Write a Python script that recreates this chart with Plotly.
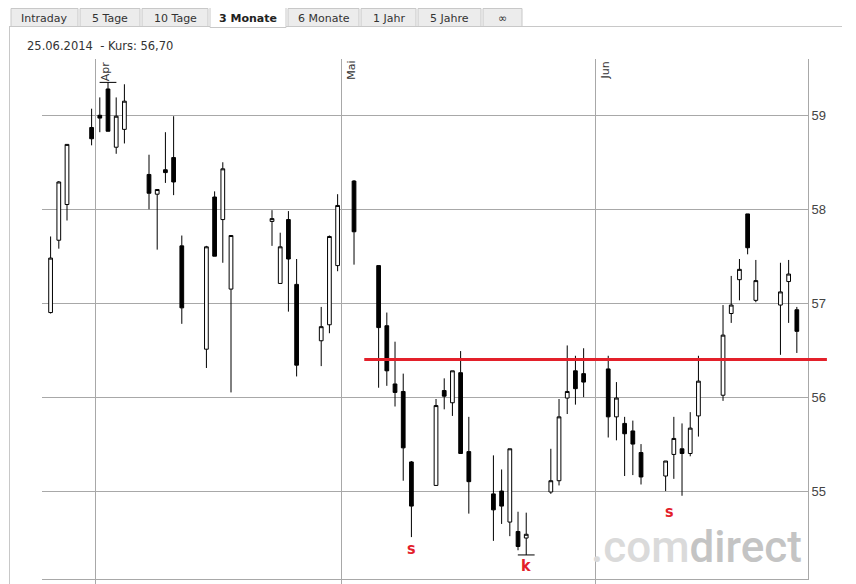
import plotly.graph_objects as go
import pandas as pd

# ---------------- data ----------------
dates = ["2014-03-26", "2014-03-27", "2014-03-28", "2014-03-31", "2014-04-01", "2014-04-02",
         "2014-04-03", "2014-04-04", "2014-04-07", "2014-04-08", "2014-04-09", "2014-04-10",
         "2014-04-11", "2014-04-14", "2014-04-15", "2014-04-16", "2014-04-17", "2014-04-22",
         "2014-04-23", "2014-04-24", "2014-04-25", "2014-04-28", "2014-04-29", "2014-04-30",
         "2014-05-02", "2014-05-05", "2014-05-06", "2014-05-07", "2014-05-08", "2014-05-09",
         "2014-05-12", "2014-05-13", "2014-05-14", "2014-05-15", "2014-05-16", "2014-05-19",
         "2014-05-20", "2014-05-21", "2014-05-22", "2014-05-23", "2014-05-26", "2014-05-27",
         "2014-05-28", "2014-05-29", "2014-05-30", "2014-06-02", "2014-06-03", "2014-06-04",
         "2014-06-05", "2014-06-06", "2014-06-09", "2014-06-10", "2014-06-11", "2014-06-12",
         "2014-06-13", "2014-06-16", "2014-06-17", "2014-06-18", "2014-06-19", "2014-06-20",
         "2014-06-23", "2014-06-24", "2014-06-25"]
opens = [56.90, 57.67, 58.05, 58.87, 59.00, 59.28, 58.66, 58.85, 58.37, 58.16, 58.42, 58.55,
         57.61, 56.51, 58.13, 57.89, 57.15, 57.87, 57.21, 57.89, 57.20, 56.60, 56.77, 57.40,
         58.30, 57.40, 56.76, 56.14, 56.06, 55.31, 55.06, 56.07, 55.94, 56.26, 55.42, 54.97,
         55.00, 54.67, 54.57, 54.50, 54.99, 55.11, 55.99, 56.28, 56.25, 56.30, 55.79, 55.72,
         55.64, 55.41, 55.16, 55.39, 55.45, 55.40, 55.80, 56.02, 56.89, 57.25, 57.95, 57.03,
         56.98, 57.23, 56.93]
highs = [57.71, 58.30, 58.69, 59.07, 59.19, 59.35, 59.19, 59.33, 58.58, 58.21, 58.82, 58.99,
         57.72, 57.61, 58.19, 58.50, 57.72, 57.99, 57.75, 57.98, 57.47, 56.96, 57.72, 58.16,
         58.31, 57.40, 56.90, 56.59, 56.25, 55.32, 55.98, 56.20, 56.28, 56.49, 55.79, 55.38,
         55.23, 55.45, 54.78, 54.77, 55.45, 55.98, 56.55, 56.44, 56.52, 56.44, 56.16, 55.79,
         55.75, 55.50, 55.32, 55.79, 55.72, 55.84, 56.44, 56.98, 57.29, 57.47, 57.95, 57.46,
         57.43, 57.46, 56.96]
lows = [56.89, 57.58, 57.88, 58.68, 58.82, 58.83, 58.59, 58.70, 58.00, 57.57, 58.28, 58.15,
        56.78, 56.31, 57.50, 57.43, 56.05, 57.61, 57.21, 56.91, 56.22, 56.33, 56.68, 57.34,
        57.41, 56.10, 56.12, 55.90, 55.11, 54.51, 55.06, 55.87, 55.80, 55.40, 54.76, 54.47,
        54.65, 54.52, 54.37, 54.32, 54.97, 55.06, 55.82, 55.92, 56.00, 55.57, 55.54, 55.16,
        55.17, 55.07, 55.00, 55.13, 54.95, 55.37, 55.58, 55.96, 56.79, 57.03, 57.52, 57.01,
        56.45, 56.79, 56.47]
closes = [57.48, 58.29, 58.69, 58.75, 58.97, 58.83, 58.99, 59.15, 58.17, 58.21, 58.39, 58.29,
          56.95, 57.60, 57.50, 58.43, 57.72, 57.90, 57.60, 57.47, 56.34, 56.75, 57.71, 58.04,
          57.76, 56.74, 56.28, 56.05, 55.46, 54.84, 55.91, 56.01, 56.28, 55.40, 55.10, 54.80,
          54.84, 55.45, 54.41, 54.54, 55.11, 55.79, 56.06, 56.09, 56.16, 55.79, 55.99, 55.61,
          55.50, 55.15, 55.32, 55.56, 55.40, 55.67, 56.17, 56.66, 56.98, 57.36, 57.59, 57.24,
          57.12, 57.31, 56.70]

y_ticks = [55, 56, 57, 58, 59]
month_ticks = ["2014-04-01", "2014-05-01", "2014-06-01"]
month_labels = ["Apr", "Mai", "Jun"]

resistance_level = 56.40
resistance_start = "2014-05-03 18:00"
resistance_end = "2014-06-29 04:00"

pattern_labels = ["s", "k", "s"]
pattern_dates = ["2014-05-09 12:00", "2014-05-23 12:00", "2014-06-10 00:00"]
pattern_y = [54.39, 54.21, 54.78]

tab_labels = ["Intraday", "5 Tage", "10 Tage", "3 Monate", "6 Monate", "1 Jahr", "5 Jahre", "\u221e"]
active_tab = "3 Monate"
header_text = "25.06.2014\u00a0\u00a0- Kurs: 56,70"

# ---------------- layout geometry ----------------
OFF = 8                      # page body margin of the html page
W, H = 856 - OFF, 584 - OFF
ML, MT = 42 - OFF, 59 - OFF
PW, PH = 766, 520
MR = W - ML - PW
MB = H - MT - PH
x_range = ["2014-03-25 10:50", "2014-06-26 20:40"]
y_range = [54.064, 59.599]


def px(xp):
    return (xp - OFF - ML) / PW


def py(yp):
    return (H - MB - (yp - OFF)) / PH


def date_to_paper(d):
    t0, t1 = pd.Timestamp(x_range[0]), pd.Timestamp(x_range[1])
    return (pd.Timestamp(d) - t0) / (t1 - t0)


GRID = "#a8a8a8"
RED = "#e3202a"

fig = go.Figure()

fig.add_trace(go.Candlestick(
    x=dates, open=opens, high=highs, low=lows, close=closes,
    xperiod=86400000, xperiodalignment="middle",
    increasing=dict(line=dict(color="black", width=1), fillcolor="white"),
    decreasing=dict(line=dict(color="black", width=1), fillcolor="black"),
    whiskerwidth=0, showlegend=False, hoverinfo="skip",
))

# period high / low markers (derived from the data)
i_hi = max(range(len(highs)), key=lambda i: highs[i])
i_lo = min(range(len(lows)), key=lambda i: lows[i])
fig.add_trace(go.Scatter(
    x=[pd.Timestamp(dates[i_hi]) + pd.Timedelta(hours=12), pd.Timestamp(dates[i_lo]) + pd.Timedelta(hours=12)],
    y=[highs[i_hi], lows[i_lo]], mode="markers",
    marker=dict(symbol="line-ew", size=12, line=dict(color="black", width=1)),
    showlegend=False, hoverinfo="skip", cliponaxis=False,
))

shapes = []
annotations = []

# resistance line (extends slightly past the axis like the original)
shapes.append(dict(type="line", xref="paper", yref="y",
                   x0=date_to_paper(resistance_start), x1=date_to_paper(resistance_end),
                   y0=resistance_level, y1=resistance_level,
                   line=dict(color=RED, width=3), layer="above"))

for lab, d, yv in zip(pattern_labels, pattern_dates, pattern_y):
    annotations.append(dict(x=d, y=yv, xref="x", yref="y", text="<b>%s</b>" % lab,
                            showarrow=False, xanchor="center", yanchor="middle", borderpad=0,
                            font=dict(family="DejaVu Sans Condensed", size=16, color=RED)))

for d, lab in zip(month_ticks, month_labels):
    annotations.append(dict(x=d, y=1, xref="x", yref="paper", text=lab, textangle=-90,
                            showarrow=False, xanchor="left", yanchor="top", xshift=1, yshift=0,
                            font=dict(family="DejaVu Sans", size=11, color="#333333")))

# watermark
annotations.append(dict(x=px(803), y=py(574), xref="paper", yref="paper",
                        text="<span style='color:#dadada'>.com</span><span style='color:#c4c4c4'>direct</span>",
                        showarrow=False, xanchor="right", yanchor="bottom", borderpad=0,
                        font=dict(family="Roboto", size=44, color="#cccccc", weight=500)))

# header
annotations.append(dict(x=px(25), y=py(46), xref="paper", yref="paper", text=header_text,
                        showarrow=False, xanchor="left", yanchor="middle",
                        font=dict(family="DejaVu Sans", size=11.5, color="#333333")))

# tabs
tab_edges = [(11, 78), (80, 140), (142, 208), (210, 286), (288, 359), (361, 416), (418, 481), (483, 522)]
shapes.append(dict(type="line", xref="paper", yref="paper", x0=px(9), x1=px(842), y0=py(26.5), y1=py(26.5),
                   line=dict(color="#c8c8c8", width=1)))
shapes.append(dict(type="line", xref="paper", yref="paper", x0=px(9.5), x1=px(9.5), y0=py(26.5), y1=py(590),
                   line=dict(color="#c8c8c8", width=1)))
for lab, (x0, x1) in zip(tab_labels, tab_edges):
    active = lab == active_tab
    top = 4.5 if active else 8.5
    shapes.append(dict(type="rect", xref="paper", yref="paper", x0=px(x0), x1=px(x1),
                       y0=py(27.5 if active else 26.5), y1=py(top),
                       line=dict(color="#c8c8c8", width=1),
                       fillcolor="white" if active else "#ececec", layer="above"))
    annotations.append(dict(x=px((x0 + x1) / 2), y=py(18.5), xref="paper", yref="paper",
                            text="<b>%s</b>" % lab if active else lab, showarrow=False,
                            xanchor="center", yanchor="middle",
                            font=dict(family="DejaVu Sans", size=11, color="#222222" if active else "#333333")))

fig.update_layout(
    template="none",
    width=W, height=H, autosize=False,
    margin=dict(l=ML, r=MR, t=MT, b=MB, pad=0),
    paper_bgcolor="white", plot_bgcolor="white",
    shapes=shapes, annotations=annotations,
    boxgap=0.35,
    xaxis=dict(type="date", range=x_range, rangeslider=dict(visible=False), automargin=False,
               tickvals=month_ticks, showticklabels=False, showgrid=True, gridcolor=GRID, gridwidth=1,
               ticks="outside", ticklen=6, tickcolor=GRID, tickwidth=1,
               showline=True, linecolor=GRID, linewidth=1, zeroline=False, fixedrange=True),
    yaxis=dict(side="right", range=y_range, tickvals=y_ticks, ticktext=[str(v) for v in y_ticks],
               automargin=False,
               showgrid=True, gridcolor=GRID, gridwidth=1, showline=True, linecolor=GRID, linewidth=1,
               ticks="", zeroline=False, fixedrange=True,
               tickfont=dict(family="Liberation Sans", size=13, color="#444444")),
    hovermode=False,
)

fig.write_html("out.html")
